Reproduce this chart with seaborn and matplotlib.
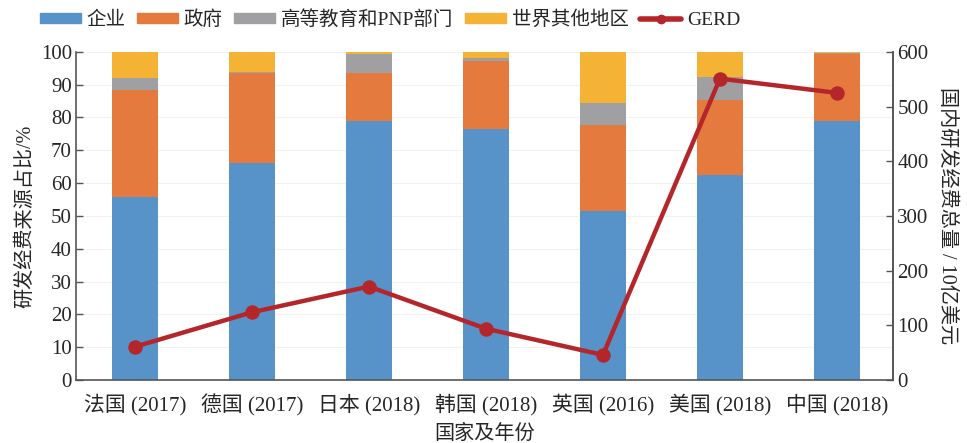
import numpy as np
import pandas as pd
import matplotlib
matplotlib.use("Agg")
import matplotlib.pyplot as plt
import seaborn as sns
from matplotlib.patches import Patch
from matplotlib.lines import Line2D

# dados
paises = ["法国 (2017)", "德国 (2017)", "日本 (2018)", "韩国 (2018)",
          "英国 (2016)", "美国 (2018)", "中国 (2018)"]
empresa = [55.9, 66.1, 78.8, 76.6, 51.4, 62.4, 79.0]
governo = [32.6, 27.6, 14.6, 20.5, 26.4, 22.8, 20.4]
ensino = [3.5, 0.3, 5.9, 0.9, 6.6, 7.2, 0.3]
exterior = [8.0, 6.0, 0.7, 2.0, 15.6, 7.6, 0.3]
gerd = [61, 124, 171, 94, 46, 551, 525]

series = ["企业", "政府", "高等教育和PNP部门", "世界其他地区"]
cores = ["#5793c9", "#e57a3f", "#a0a0a3", "#f5b335"]
cor_linha = "#b5262b"

df = pd.DataFrame({"pais": paises, "企业": empresa, "政府": governo,
                   "高等教育和PNP部门": ensino, "世界其他地区": exterior})
acum = df[series].cumsum(axis=1)

sns.set_style("white")
plt.rcParams["font.family"] = ["Liberation Serif", "Noto Sans CJK SC"]
plt.rcParams["axes.unicode_minus"] = False

fig = plt.figure(figsize=(9.67, 4.43), dpi=100)
ax = fig.add_axes([0.0786, 0.142, 0.845, 0.741])

# barras empilhadas: desenha do total para baixo
for s, c in reversed(list(zip(series, cores))):
    sns.barplot(x=df["pais"], y=acum[s], color=c, width=0.4,
                linewidth=0, saturation=1, ax=ax, zorder=2)

ax.set_ylim(0, 100)
ax.set_yticks(range(0, 101, 10))
ax.yaxis.grid(True, color="#f2f2f2", linewidth=0.8, zorder=0)
ax.set_axisbelow(True)
ax.set_ylabel("研发经费来源占比/%", fontsize=14.5, labelpad=4)
ax.set_xlabel("国家及年份", fontsize=14.5, labelpad=6)

ax2 = ax.twinx()
sns.pointplot(x=df["pais"], y=gerd, color=cor_linha, markers="o",
              linestyles="-", ax=ax2, markersize=8, linewidth=3.2)
ax2.set_ylim(0, 600)
ax2.set_yticks(range(0, 601, 100))
ax2.set_ylabel("国内研发经费总量 / 10亿美元", fontsize=14.5, rotation=270,
               labelpad=20)
ax.set_xlim(-0.504, 6.48)
ax2.set_xlim(-0.504, 6.48)

for a in (ax, ax2):
    a.spines["top"].set_visible(False)
    for lado in ("left", "right", "bottom"):
        a.spines[lado].set_color("#555555")
        a.spines[lado].set_linewidth(1.2)
    a.tick_params(axis="y", direction="in", length=5, width=1,
                  color="#555555", labelsize=15, pad=3)
    a.tick_params(axis="x", length=0, labelsize=15, pad=10)
ax2.spines["left"].set_visible(False)
ax2.spines["bottom"].set_visible(False)

handles = [Patch(color=c, label=s) for s, c in zip(series, cores)]
handles.append(Line2D([0], [0], color=cor_linha, lw=4, marker="o",
                      markersize=6, label="GERD"))
fig.legend(handles=handles, loc="upper left", bbox_to_anchor=(0.033, 0.995),
           borderaxespad=0, ncol=5, frameon=False, fontsize=14,
           handlelength=2.1, handleheight=0.45, handletextpad=0.3,
           columnspacing=0.6)

fig.savefig("out.png", dpi=100)
